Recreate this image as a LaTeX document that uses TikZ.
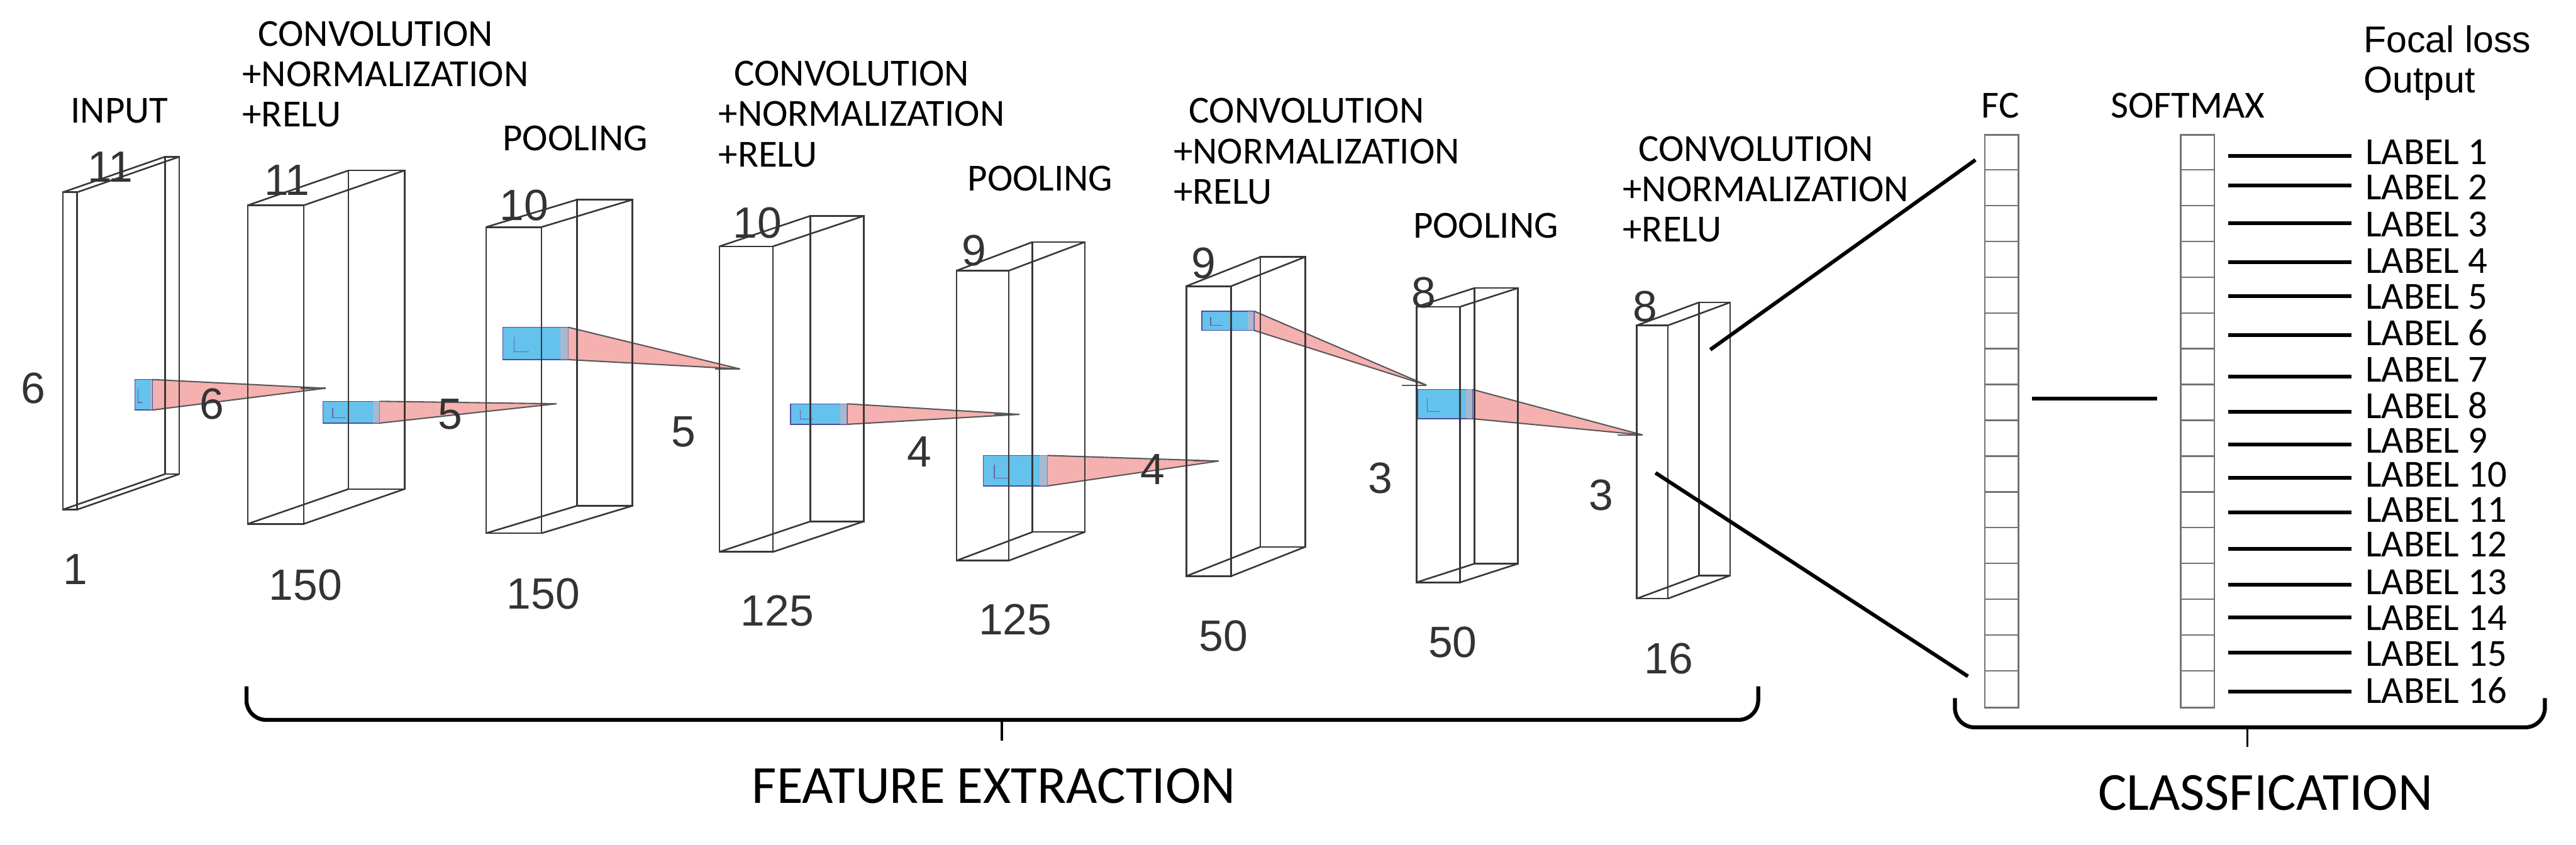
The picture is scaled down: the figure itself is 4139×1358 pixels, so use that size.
\documentclass[tikz,border=0pt]{standalone}
\usepackage{fontspec}
\setmainfont{Carlito}
\newfontfamily\numfont{Liberation Sans}
\usetikzlibrary{positioning}
\definecolor{patchblue}{RGB}{100,194,236}
\definecolor{raypink}{RGB}{245,176,176}

% wire box: x, y of front top left, width, height, depth x, depth y
\newcommand{\layerbox}[6]{
	\draw[wire] (#1,#2) rectangle ++(#3,#4);
	\draw[wire] (#1+#5,#2+#6) rectangle ++(#3,#4);
	\draw[wire] (#1,#2) -- ++(#5,#6) (#1+#3,#2) -- ++(#5,#6)
		(#1,#2+#4) -- ++(#5,#6) (#1+#3,#2+#4) -- ++(#5,#6);
}
% kernel patch and its ray: patch corners, tip
\newcommand{\kernelray}[6]{
	\fill[raypink] (#3,#2) -- (#5,#6) -- (#3,#4) -- cycle;
	\draw[rayedge] (#3,#2) -- (#5,#6) -- (#3,#4);
	\draw[rayedge] (#5-40,#6) -- (#5,#6);
	\filldraw[patch] (#1,#2) rectangle (#3,#4);
	\draw[blue!40!black!60, line width=0.35pt] (#1+0.17*#3-0.17*#1,#2+0.3*#4-0.3*#2) |- (#1+0.4*#3-0.4*#1,#4-0.25*#4+0.25*#2);
	\fill[raypink, opacity=0.45] (#3-0.12*#3+0.12*#1,#2) rectangle (#3,#4);
}
% three line conv caption, first baseline at y
\newcommand{\convtext}[3]{
	\node[title] (#1a) at (#2+25,#3) {CONVOLUTION};
	\node[title] (#1b) at (#2,#3+65) {+NORMALIZATION};
	\node[title] (#1c) at (#2,#3+130) {+RELU};
}

\begin{document}
\begin{tikzpicture}[x=0.01cm, y=-0.01cm,
	wire/.style = {draw=black!78, line width=0.75pt},
	patch/.style = {fill=patchblue, draw=blue!45!black!70, line width=0.4pt},
	rayedge/.style = {draw=black!65, line width=0.6pt},
	title/.style = {anchor=base west, inner sep=0pt, font=\fontsize{17.5}{20}\selectfont},
	dim/.style = {inner sep=0pt, text=black!80, font=\numfont\fontsize{20}{22}\selectfont},
	column/.style = {draw=black!55, line width=0.7pt, inner sep=0pt, minimum width=0.54cm, minimum height=9.2cm},
	link/.style = {line width=1.7pt},
	brace/.style = {line width=1.8pt, rounded corners=9pt}]
	\useasboundingbox (0,0) rectangle (4139,1358);

	% rays first, boxes on top
	\kernelray{217}{610}{245}{659}{523}{624}
	\kernelray{519}{645}{610}{680}{894}{649}
	\kernelray{808}{526}{913}{578}{1189}{593}
	\kernelray{1270}{649}{1361}{682}{1638}{666}
	\kernelray{1580}{732}{1683}{781}{1958}{741}
	\kernelray{1931}{500}{2015}{531}{2292}{619}
	\kernelray{2278}{626}{2366}{673}{2639}{699}

	\layerbox{101}{309}{23}{510}{164}{-57}
	\layerbox{398}{330}{90}{512}{162}{-56}
	\layerbox{781}{365}{89}{492}{146}{-44}
	\layerbox{1156}{396}{86}{491}{146}{-49}
	\layerbox{1537}{435}{84}{466}{122}{-46}
	\layerbox{1906}{460}{72}{466}{119}{-47}
	\layerbox{2276}{493}{70}{443}{93}{-30}
	\layerbox{2630}{523}{50}{439}{100}{-37}

	% sizes
	\foreach \x/\y/\t [count=\i] in {177/268/11, 461/290/11, 842/330/10, 1217/358/10, 1565/403/9, 1934/423/9, 2288/470/8, 2643/493/8}
		\node[dim] (top\i) at (\x,\y) {\t};
	\foreach \x/\y/\t [count=\i] in {53/624/6, 340/649/6, 723/666/5, 1098/694/5, 1477/726/4, 1852/754/4, 2218/769/3, 2573/796/3}
		\node[dim] (side\i) at (\x,\y) {\t};
	\foreach \x/\y/\t [count=\i] in {121/915/1, 491/940/150, 873/954/150, 1249/982/125, 1631/996/125, 1966/1022/50, 2334/1032/50, 2681/1059/16}
		\node[dim] (bot\i) at (\x,\y) {\t};

	% captions
	\node[title] (input) at (113,198) {INPUT};
	\convtext{convA}{389}{74}
	\convtext{convB}{1154}{138}
	\convtext{convC}{1885}{198}
	\convtext{convD}{2607}{259}
	\node[title] (poolA) at (807,242) {POOLING};
	\node[title] (poolB) at (1554,307) {POOLING};
	\node[title] (poolC) at (2270,382) {POOLING};

	% classifier
	\node[column] (fc) at (3216,677) {};
	\node[column] (sm) at (3531,677) {};
	\foreach \i in {1,...,15} {
		\draw[draw=black!55, line width=0.7pt] (fc.north west) ++(0,57.5*\i) -- ++(54,0);
		\draw[draw=black!55, line width=0.7pt] (sm.north west) ++(0,57.5*\i) -- ++(54,0);
	}
	\node[title] (fctext) at (3183,189) {FC};
	\node[title] (smtext) at (3391,189) {SOFTMAX};
	\node[inner sep=0pt, anchor=north west, align=left, font=\numfont\fontsize{17}{18.5}\selectfont] (focal) at (3797,40) {Focal loss\\Output};

	\coordinate (c4up) at (2748,562);
	\coordinate (c4low) at (2660,760);
	\coordinate (fcup) at (3174,257);
	\coordinate (fclow) at (3162,1087);
	\draw[link] (c4up) -- (fcup);
	\draw[link] (c4low) -- (fclow);
	\coordinate (fcout) at (3265,641);
	\coordinate (smin) at (3466,641);
	\draw[link] (fcout) -- (smin);

	\foreach \ly/\ty [count=\n] in {251/244, 298/301, 359/360, 421/419, 476/477, 539/535, 605/594, 662/652, 714/708, 768/763, 824/819, 882/875, 940/935, 992/993, 1049/1051, 1112/1110} {
		\node[title, font=\fontsize{17.5}{20}\selectfont] (lab\n) at (3800,\ty+20) {LABEL \n};
		\draw[link] (3580,\ly) -- (3778,\ly);
	}

	% braces
	\draw[brace] (396,1103) -- (396,1157) -- (2825,1157) -- (2825,1103);
	\draw[line width=1.1pt] (1610,1157) -- (1610,1190);
	\draw[brace] (3141,1122) -- (3141,1169) -- (4089,1169) -- (4089,1122);
	\draw[line width=1.1pt] (3611,1169) -- (3611,1200);
	\node[inner sep=0pt, font=\fontsize{24.5}{26}\selectfont] (feat) at (1597,1263) {FEATURE EXTRACTION};
	\node[inner sep=0pt, font=\fontsize{24.5}{26}\selectfont] (clas) at (3640,1274) {CLASSFICATION};
\end{tikzpicture}
\end{document}
